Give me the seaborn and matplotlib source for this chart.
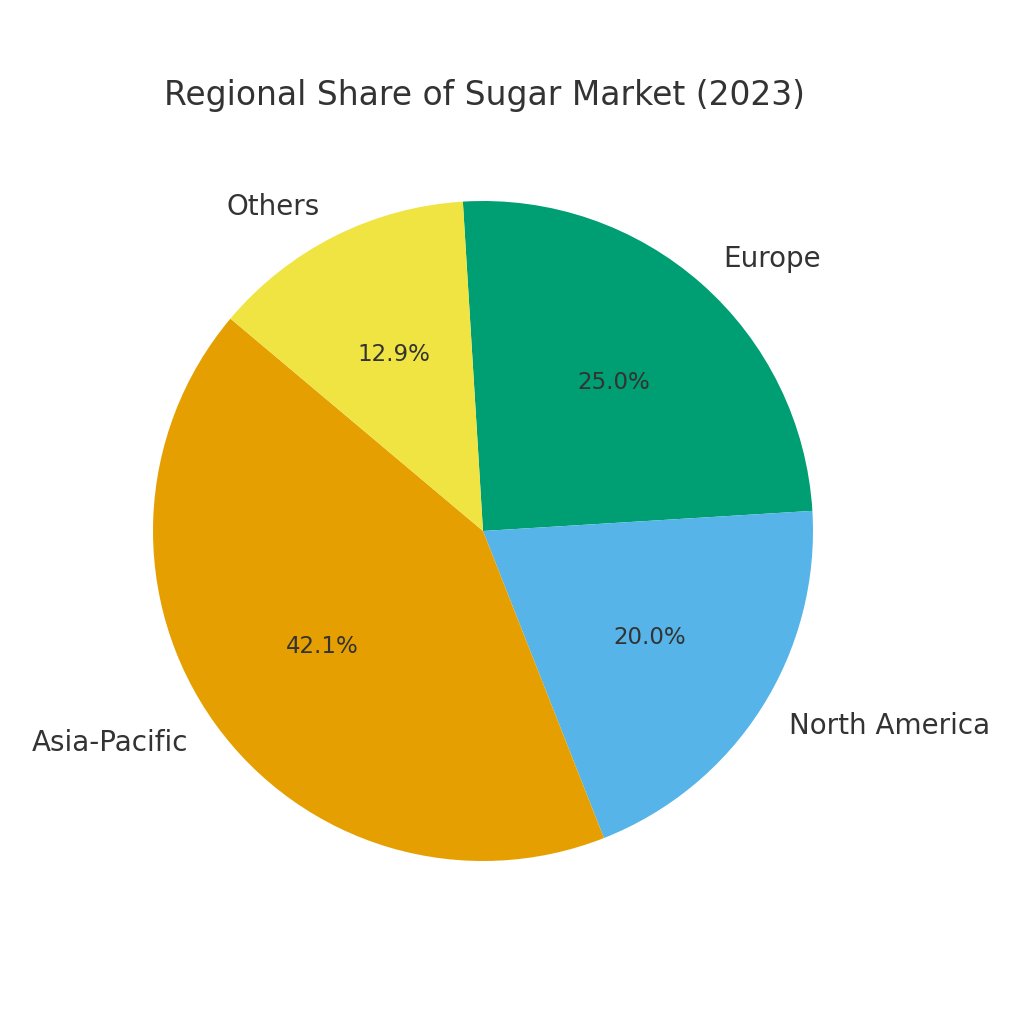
import matplotlib
matplotlib.use("Agg")
import matplotlib.pyplot as plt
import seaborn as sns

regions = ["Europe", "North America", "Asia-Pacific", "Others"]
shares = [25.0, 20.0, 42.1, 12.9]
colors = ["#009E73", "#56B4E9", "#E69F00", "#F0E442"]

sns.set_theme(style="white")

fig = plt.figure(figsize=(10.24, 10.24), dpi=100)
ax = fig.add_axes([70.5 / 1024, 80.5 / 1024, 825 / 1024, 825 / 1024])
ax.pie(
    shares, labels=regions, colors=colors, autopct="%1.1f%%",
    startangle=93.5, counterclock=False,
    wedgeprops={"linewidth": 0},
    textprops={"fontsize": 16.5, "color": "#333333"},
    labeldistance=1.1,
)
for t in ax.texts:
    if t.get_text() in regions:
        t.set_fontsize(20)
ax.set_xlim(-1.25, 1.25)
ax.set_ylim(-1.25, 1.25)
ax.set_aspect("equal")
ax.axis("off")
fig.text(484 / 1024, 1 - 95 / 1024, "Regional Share of Sugar Market (2023)",
         fontsize=23.7, color="#333333", ha="center", va="center")
fig.savefig("out.png")
